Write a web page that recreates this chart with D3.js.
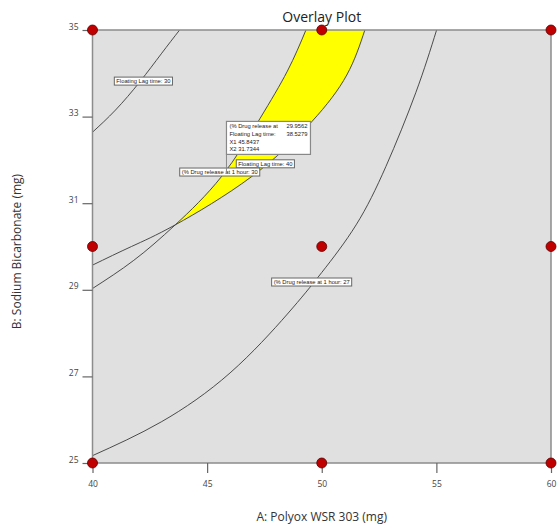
<html>
<meta charset="utf-8">
<head>
<title>Overlay Plot</title>
<script src="https://d3js.org/d3.v7.min.js"></script>
<style>
body { margin:0; background:#fff; }
text { font-family: "Open Sans", "Noto Sans", sans-serif; }
</style>
</head>
<body>
<div id="chart"></div>
<script type='application/javascript'>
// axis ranges / ticks
var xDomain = [40, 60];
var yDomain = [25, 35];
var xTicks = [40, 45, 50, 55, 60];
var yTicks = [25, 27, 29, 31, 33, 35];

// design points (A, B)
var designX = [40, 40, 40, 50, 50, 50, 60, 60, 60];
var designY = [25, 30, 35, 25, 30, 35, 25, 30, 35];

// contour lines [A, B]
var lagTime30 = [[40,32.64],[41,33.15],[42.06,33.8],[43,34.45],[43.8,35]];
var release30 = [[40,29.03],[41.8,29.68],[43.61,30.50],[45.62,31.61],[47.3,32.95],[48.5,34.05],[49.31,35]];
var lagTime40 = [[40,29.57],[41.7,30.0],[43.61,30.50],[46.93,31.61],[49.56,32.88],[51.09,33.96],[51.88,35]];
var release27 = [[40,25.17],[43,25.95],[46,27.08],[48.5,28.44],[50,29.4],[51.5,30.5],[52.8,31.85],[54.1,33.55],[55.01,35]];

// contour labels: text, anchor [A, B]
var contourLabels = [
  ["Floating Lag time: 30", 42.22, 33.82],
  ["Floating Lag time: 40", 47.54, 31.91],
  ["(% Drug release at 1 hour: 30", 45.55, 31.72],
  ["(% Drug release at 1 hour: 27", 49.56, 29.18]
];

// flag
var flagNames = ["(% Drug release at", "Floating Lag time:", "X1", "X2"];
var flagValues = ["29.9562", "38.5279", "45.8437", "31.7344"];
var flagPoint = [45.8437, 31.7344];

var W = 557, H = 524;
var pL = 92.5, pR = 551, pT = 30, pB = 463;

var svg = d3.select("#chart").append("svg")
  .attr("width", W)
  .attr("height", H);

var x = d3.scaleLinear().domain(xDomain).range([pL, pR]);
var y = d3.scaleLinear().domain(yDomain).range([pB, pT]);

svg.append("defs").append("clipPath").attr("id", "clip")
  .append("rect").attr("x", pL).attr("y", pT)
  .attr("width", pR - pL).attr("height", pB - pT);

svg.append("rect")
  .attr("x", pL).attr("y", pT)
  .attr("width", pR - pL).attr("height", pB - pT)
  .attr("fill", "#e0e0e0");

var line = d3.line()
  .x(function(d){ return x(d[0]); })
  .y(function(d){ return y(d[1]); })
  .curve(d3.curveNatural);

var plot = svg.append("g").attr("clip-path", "url(#clip)");

// yellow window between the two crossing contours
var aSeg = release30.slice(2);
var bSeg = lagTime40.slice(2).reverse();
plot.append("path")
  .attr("d", line(aSeg) + line(bSeg).replace(/^M/, "L") + "Z")
  .attr("fill", "#ffff00")
  .attr("stroke", "none");

[lagTime30, release30, lagTime40, release27].forEach(function(c){
  plot.append("path")
    .attr("d", line(c))
    .attr("fill", "none")
    .attr("stroke", "#3a3a3a")
    .attr("stroke-width", 0.9);
});

// frame
svg.append("rect")
  .attr("x", pL).attr("y", pT)
  .attr("width", pR - pL).attr("height", pB - pT)
  .attr("fill", "none")
  .attr("stroke", "#8c8c8c")
  .attr("stroke-width", 1.5);

// axes
var xAxis = d3.axisBottom(x).tickValues(xTicks).tickSize(10).tickPadding(8);
var yAxis = d3.axisLeft(y).tickValues(yTicks).tickSize(10).tickPadding(4);

var gx = svg.append("g").attr("transform", "translate(0," + pB + ")").call(xAxis);
var gy = svg.append("g").attr("transform", "translate(" + pL + ",0)").call(yAxis);
[gx, gy].forEach(function(g){
  g.select(".domain").remove();
  g.selectAll("line").attr("stroke", "#666").attr("stroke-width", 1.2);
  g.selectAll("text").attr("fill", "#444").style("font-size", "8.5px")
    .style("font-family", "'Open Sans', sans-serif");
});
gy.selectAll("text").attr("dy", "-0.1em");

// contour labels
contourLabels.forEach(function(l){
  var g = svg.append("g").attr("transform", "translate(" + x(l[1]) + "," + y(l[2]) + ")");
  var t = g.append("text")
    .attr("text-anchor", "middle")
    .attr("dy", "0.35em")
    .attr("fill", "#222")
    .style("font-size", "5.8px")
    .style("font-family", "'Liberation Sans', sans-serif")
    .text(l[0]);
  var bb = t.node().getBBox();
  g.insert("rect", "text")
    .attr("x", bb.x - 2).attr("y", -4)
    .attr("width", bb.width + 4).attr("height", 8)
    .attr("fill", "#fff")
    .attr("stroke", "#666")
    .attr("stroke-width", 1);
});

// flag box
var fx = x(flagPoint[0]), fy = y(flagPoint[1]);
var flag = svg.append("g").attr("transform", "translate(" + fx + "," + (fy - 50) + ")");
flag.append("line")
  .attr("x1", 0).attr("y1", 33).attr("x2", 0).attr("y2", 50)
  .attr("stroke", "#888").attr("stroke-width", 1);
flag.append("rect")
  .attr("x", 0).attr("y", 0).attr("width", 84).attr("height", 33)
  .attr("fill", "#fff").attr("stroke", "#888").attr("stroke-width", 1.2);
flagNames.forEach(function(n, i){
  flag.append("text")
    .attr("x", 3).attr("y", 7 + i * 7.6)
    .style("font-size", "5.8px")
    .style("font-family", "'Liberation Sans', sans-serif")
    .attr("fill", "#222")
    .text(n + (i > 1 ? "  " + flagValues[i] : ""));
  if (i < 2) {
    flag.append("text")
      .attr("x", 60).attr("y", 7 + i * 7.6)
      .style("font-size", "5.8px")
      .style("font-family", "'Liberation Sans', sans-serif")
      .attr("fill", "#222")
      .text(flagValues[i]);
  }
});

// design points
svg.selectAll("circle.design")
  .data(d3.range(designX.length))
  .enter().append("circle")
  .attr("class", "design")
  .attr("cx", function(i){ return x(designX[i]); })
  .attr("cy", function(i){ return y(designY[i]); })
  .attr("r", 5)
  .attr("fill", "#c00000")
  .attr("stroke", "#5a0000")
  .attr("stroke-width", 0.8);

// titles
svg.append("text")
  .attr("x", (pL + pR) / 2).attr("y", 22)
  .attr("text-anchor", "middle")
  .style("font-size", "14px")
  .attr("fill", "#222")
  .text("Overlay Plot");

svg.append("text")
  .attr("x", (pL + pR) / 2).attr("y", 521)
  .attr("text-anchor", "middle")
  .style("font-size", "12px")
  .attr("fill", "#333")
  .text("A: Polyox WSR 303 (mg)");

svg.append("text")
  .attr("transform", "translate(21," + ((pT + pB) / 2 + 5) + ") rotate(-90)")
  .attr("text-anchor", "middle")
  .style("font-size", "12px")
  .attr("fill", "#333")
  .text("B: Sodium Bicarbonate (mg)");
</script>
</body>
</html>
